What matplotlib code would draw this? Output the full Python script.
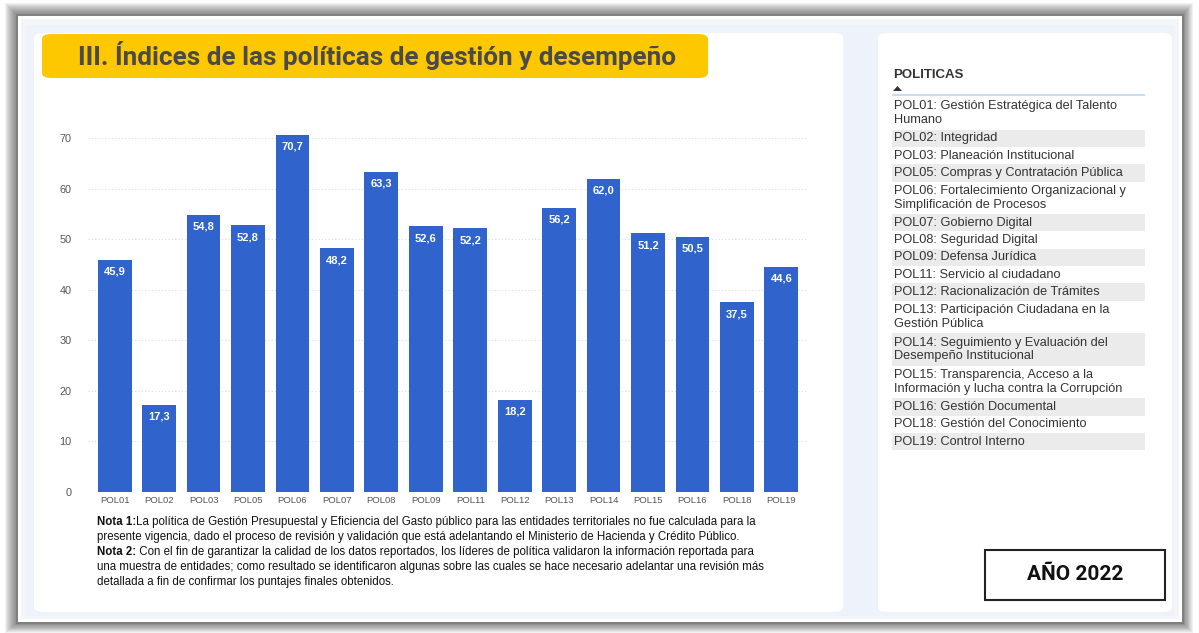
import matplotlib.pyplot as plt
from matplotlib.patches import Rectangle, FancyBboxPatch, Polygon

plt.rcParams['font.family'] = ['Liberation Sans', 'DejaVu Sans']

# Policy codes and their index values
codes = ['POL01', 'POL02', 'POL03', 'POL05', 'POL06', 'POL07', 'POL08', 'POL09',
         'POL11', 'POL12', 'POL13', 'POL14', 'POL15', 'POL16', 'POL18', 'POL19']
values = [45.9, 17.3, 54.8, 52.8, 70.7, 48.2, 63.3, 52.6,
          52.2, 18.2, 56.2, 62.0, 51.2, 50.5, 37.5, 44.6]

# Legend entries for the policy list
policy_names = [
    'POL01: Gestión Estratégica del Talento\nHumano',
    'POL02: Integridad',
    'POL03: Planeación Institucional',
    'POL05: Compras y Contratación Pública',
    'POL06: Fortalecimiento Organizacional y\nSimplificación de Procesos',
    'POL07: Gobierno Digital',
    'POL08: Seguridad Digital',
    'POL09: Defensa Jurídica',
    'POL11: Servicio al ciudadano',
    'POL12: Racionalización de Trámites',
    'POL13: Participación Ciudadana en la\nGestión Pública',
    'POL14: Seguimiento y Evaluación del\nDesempeño Institucional',
    'POL15: Transparencia, Acceso a la\nInformación y lucha contra la Corrupción',
    'POL16: Gestión Documental',
    'POL18: Gestión del Conocimiento',
    'POL19: Control Interno',
]

yticks = [0, 10, 20, 30, 40, 50, 60, 70]

title = 'III. Índices de las políticas de gestión y desempeño'
notes = [
    ('Nota 1:', 'La política de Gestión Presupuestal y Eficiencia del Gasto público para las entidades territoriales no fue calculada para la\n'
                'presente vigencia, dado el proceso de revisión y validación que está adelantando el Ministerio de Hacienda y Crédito Público.'),
    ('Nota 2:', ' Con el fin de garantizar la calidad de los datos reportados, los líderes de política validaron la información reportada para\n'
                'una muestra de entidades; como resultado se identificaron algunas sobre las cuales se hace necesario adelantar una revisión más\n'
                'detallada a fin de confirmar los puntajes finales obtenidos.'),
]

W, H = 1199, 633
fig = plt.figure(figsize=(W / 100, H / 100), dpi=100)
fig.patch.set_facecolor('white')


def fx(x):
    return x / W


def fy(y):
    return 1 - y / H


def box(x0, y0, x1, y1, **kw):
    kw.setdefault('zorder', -5)
    fig.patches.append(Rectangle((fx(x0), fy(y1)), fx(x1 - x0), (y1 - y0) / H,
                                 transform=fig.transFigure, **kw))


def rbox(x0, y0, x1, y1, color):
    fig.patches.append(FancyBboxPatch((fx(x0), fy(y1)), fx(x1 - x0), (y1 - y0) / H,
                                      boxstyle='round,pad=0,rounding_size=0.008',
                                      transform=fig.transFigure, zorder=-4,
                                      facecolor=color, edgecolor='none'))


# blurred drop shadow around the frame
for k in range(12, 0, -1):
    box(17 - k, 15 - k, 1183 + k * 0.8, 623 + k * 0.8, facecolor='#444444', alpha=0.07,
        edgecolor='none', zorder=-9)
box(16, 14, 1184, 624, facecolor='#808080', edgecolor='none', zorder=-8)
box(18, 16, 1182, 622, facecolor='white', edgecolor='none', zorder=-7)
box(21, 19, 1179, 619, facecolor='#f4f5f9', edgecolor='none', zorder=-7)
box(26, 25, 1174, 616, facecolor='#eef2fa', edgecolor='none', zorder=-6)

# white cards
rbox(34, 33, 843, 612, 'white')
rbox(878, 33, 1172, 612, 'white')

# title banner
fig.patches.append(FancyBboxPatch((fx(42), fy(78)), fx(708 - 42), (78 - 34) / H,
                                  boxstyle='round,pad=0,rounding_size=0.008',
                                  transform=fig.transFigure, zorder=-3,
                                  facecolor='#fdc800', edgecolor='none'))
fig.text(fx(377), fy(56), title, ha='center', va='center', fontsize=18.8,
         fontweight='bold', color='#4a4a4a', family=['Roboto', 'DejaVu Sans'],
         fontstretch='condensed')

# bar chart
ax = fig.add_axes([fx(88), fy(492), fx(808 - 88), (492 - 128) / H])
x = list(range(len(codes)))
ax.bar(x, values, width=0.76, color='#3063cb', zorder=2)
ax.set_xlim(-0.6, len(codes) - 0.4)
ax.set_ylim(0, 72)
ax.set_yticks(yticks)
ax.set_xticks(x)
ax.set_xticklabels(codes, fontsize=6.8, color='#555555')
ax.tick_params(axis='y', labelsize=7.8, colors='#555555', length=0, pad=12)
ax.tick_params(axis='x', length=0, pad=3)
ax.grid(axis='y', color='#dcdcdc', linestyle=(0, (1, 2)), linewidth=0.8, zorder=0)
for s in ax.spines.values():
    s.set_visible(False)
ax.set_facecolor('none')

for xi, v in zip(x, values):
    ax.annotate(f'{v:.1f}'.replace('.', ','), (xi, v), xytext=(0, -5),
                textcoords='offset points', ha='center', va='top',
                color='white', fontsize=8, fontweight='bold')

# notes under the chart
fs_note = 8.3
ny = 522
for head, body in notes:
    t = fig.text(fx(97), fy(ny), head, fontsize=fs_note, fontweight='bold',
                 va='center', color='#111111')
    fig.canvas.draw()
    bb = t.get_window_extent()
    lines = body.split('\n')
    fig.text(bb.x1 / W, fy(ny), lines[0], fontsize=fs_note, va='center', color='#111111')
    for ln in lines[1:]:
        ny += 15
        fig.text(fx(97), fy(ny), ln, fontsize=fs_note, va='center', color='#111111')
    ny += 15

# policy list
fig.text(fx(893), fy(75), 'POLITICAS', fontsize=9.5, fontweight='bold', color='#333333',
         va='center')
fig.patches.append(Polygon([(fx(893), fy(91)), (fx(902), fy(91)), (fx(897.5), fy(86))],
                           closed=True, transform=fig.transFigure, zorder=-3,
                           facecolor='#333333', edgecolor='none'))
box(892, 94, 1145, 96, facecolor='#c9dcf3', edgecolor='none', zorder=-3)

row_y = 97
line_h = 15.3
for i, name in enumerate(policy_names):
    n = name.count('\n') + 1
    h = line_h * n + 2
    if i % 2 == 1:
        box(892, row_y, 1145, row_y + h, facecolor='#ebebeb', edgecolor='none', zorder=-3)
    fig.text(fx(894), fy(row_y + h / 2), name, fontsize=9.2, color='#333333',
             va='center', linespacing=1.18)
    row_y += h

# year tag
box(985, 550, 1165, 600, facecolor='white', edgecolor='#222222', linewidth=1.5, zorder=-2)
fig.text(fx(1075), fy(575), 'AÑO 2022', ha='center', va='center', fontsize=15,
         fontweight='bold', color='#111111', family=['Roboto', 'DejaVu Sans'],
         fontstretch='condensed')

fig.savefig('out.png', dpi=100)
